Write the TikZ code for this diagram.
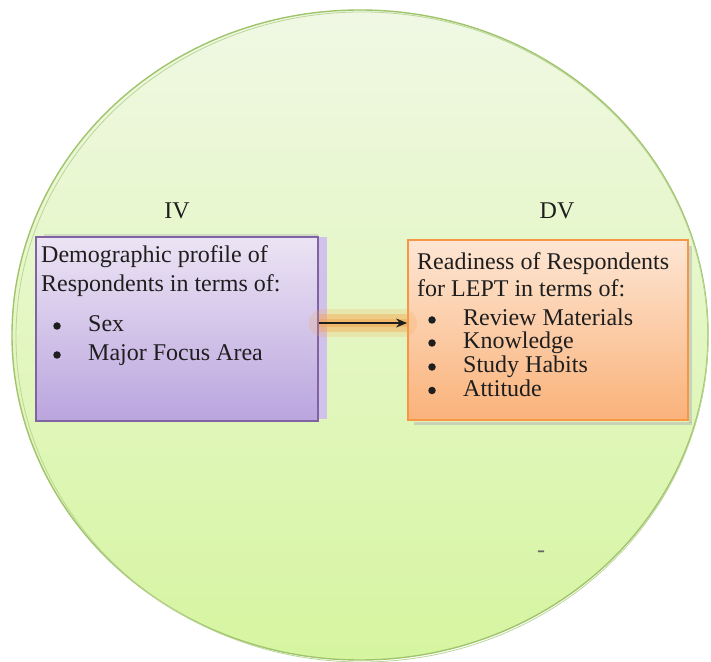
\documentclass[tikz,border=0pt]{standalone}
\usepackage{fontspec}
\setmainfont{Liberation Serif}
\newfontfamily\timesfont{Liberation Serif}
\usetikzlibrary{arrows.meta}
\definecolor{circtop}{RGB}{240,248,228}
\definecolor{circbot}{RGB}{214,245,160}
\definecolor{circline}{RGB}{160,196,108}
\definecolor{purtop}{RGB}{236,228,244}
\definecolor{purbot}{RGB}{186,165,222}
\definecolor{purline}{RGB}{128,100,162}
\definecolor{purshadow}{RGB}{208,194,234}
\definecolor{ortop}{RGB}{253,230,212}
\definecolor{orbot}{RGB}{250,178,122}
\definecolor{orline}{RGB}{247,150,70}
\definecolor{glow}{RGB}{245,165,80}
\definecolor{ink}{RGB}{30,30,30}
\tikzset{
  txt/.style={anchor=base west, inner sep=0pt, text=ink, font=\timesfont\fontsize{24}{28}\selectfont},
  dot/.style={circle, fill=ink, inner sep=0pt, minimum size=7.5pt},
  lbl/.style={anchor=base, inner sep=0pt, text=ink, font=\timesfont\fontsize{24}{28}\selectfont},
  purbox/.style={draw=purline, line width=1.8pt, top color=purtop, bottom color=purbot, inner sep=0pt},
  orbox/.style={draw=orline, line width=1.8pt, top color=ortop, bottom color=orbot, inner sep=0pt},
}
\begin{document}
\begin{tikzpicture}[x=1pt,y=1pt]
\useasboundingbox (0,0) rectangle (711,661);
% background circle
\shade[top color=circtop, bottom color=circbot] (360,326) ellipse [x radius=348, y radius=325];
\draw[circline, line width=1.4pt] (360,326) ellipse [x radius=348, y radius=325];
\draw[circline!70, line width=0.8pt] (362,324) ellipse [x radius=346, y radius=325];
% purple box shadow
\fill[purshadow] (318,242) rectangle (327,424);
\fill[black!25, opacity=0.5] (44,424) rectangle (318,427);
% boxes
\node[purbox, minimum width=282pt, minimum height=184pt] (p) at (177,332) {};
\fill[black!30, opacity=0.5] (414,236) rectangle (692,239);
\fill[black!30, opacity=0.5] (689,238) rectangle (692,415);
\node[orbox, minimum width=280pt, minimum height=180pt] (o) at (548,331) {};
% labels
\node[lbl] (iv) at (177,442) {IV};
\node[lbl] (dv) at (557,442) {DV};
% purple text
\node[txt] (p1) at (41,398) {Demographic profile of};
\node[txt] (p2) at (41,369) {Respondents in terms of:};
\node[dot] (pb1) at (57,335) {};
\node[txt] (pi1) at (88,329) {Sex};
\node[dot] (pb2) at (57,306) {};
\node[txt] (pi2) at (88,300) {Major Focus Area};
% orange text
\node[txt] (o1) at (417,391) {Readiness of Respondents};
\node[txt] (o2) at (417,364) {for LEPT in terms of:};
\node[dot] (ob1) at (432,341) {};
\node[txt] (oi1) at (463,335) {Review Materials};
\node[dot] (ob2) at (432,318) {};
\node[txt] (oi2) at (463,312) {Knowledge};
\node[dot] (ob3) at (432,294) {};
\node[txt] (oi3) at (463,288) {Study Habits};
\node[dot] (ob4) at (432,270.5) {};
\node[txt] (oi4) at (463,264.5) {Attitude};
% arrow with glow
\coordinate (ay) at (360,338);
\draw[glow, opacity=0.2, line width=28pt, line cap=round] ([xshift=4pt]p.east |- ay) -- ([xshift=-4pt]o.west |- ay);
\draw[glow, opacity=0.4, line width=18pt] (p.east |- ay) -- (o.west |- ay);
\draw[glow, opacity=0.5, line width=8pt] (p.east |- ay) -- (o.west |- ay);
\draw[ink, line width=1.3pt, -{Stealth[length=11pt,width=9pt]}] (p.east |- ay) -- (o.west |- ay);
% stray dash
\node[txt, text=black!60] (dash) at (537,104) {-};
\end{tikzpicture}
\end{document}
